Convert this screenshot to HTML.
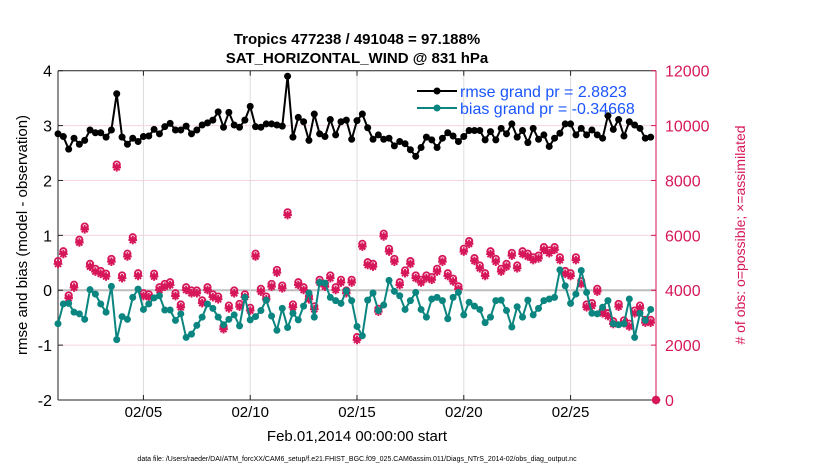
<!DOCTYPE html>
<html><head><meta charset="utf-8"><style>
html,body{margin:0;padding:0;background:#fff;}
svg{display:block;font-family:"Liberation Sans",Arial,sans-serif;}
</style></head><body>
<svg id="chart" width="830" height="470" viewBox="0 0 830 470">
<text x="357" y="44" text-anchor="middle" font-size="15" font-weight="bold">Tropics 477238 / 491048 = 97.188%</text>
<text x="357" y="63" text-anchor="middle" font-size="15" font-weight="bold">SAT_HORIZONTAL_WIND @ 831 hPa</text>
<g id="grid"></g>
<g id="axes"></g>
<g id="marks"></g>
<text x="357" y="441" text-anchor="middle" font-size="15">Feb.01,2014 00:00:00 start</text>
<text transform="translate(27,235) rotate(-90)" text-anchor="middle" font-size="15">rmse and bias (model - observation)</text>
<text transform="translate(745,235) rotate(-90)" text-anchor="middle" font-size="14" fill="#d6175a"># of obs: o=possible; ×=assimilated</text>
<text x="357" y="461" text-anchor="middle" font-size="7">data file: /Users/raeder/DAI/ATM_forcXX/CAM6_setup/f.e21.FHIST_BGC.f09_025.CAM6assim.011/Diags_NTrS_2014-02/obs_diag_output.nc</text>
<g>
<line x1="417" y1="91" x2="457" y2="91" stroke="#000" stroke-width="2"/>
<circle cx="437" cy="91" r="3.5" fill="#000"/>
<text x="460" y="97" font-size="16" fill="#1a55ff">rmse grand pr = 2.8823</text>
<line x1="417" y1="108" x2="457" y2="108" stroke="#0b8580" stroke-width="2"/>
<circle cx="437" cy="108" r="3.5" fill="#0b8580"/>
<text x="460" y="114" font-size="16" fill="#1a55ff">bias grand pr = -0.34668</text>
</g>
</svg>
<script>
const xTickDays=[5,10,15,20,25];
const xTickLabels=["02/05","02/10","02/15","02/20","02/25"];
const leftTicks=[-2,-1,0,1,2,3,4];
const rightTicks=[0,2000,4000,6000,8000,10000,12000];
const rmse=[2.85,2.80,2.57,2.77,2.66,2.73,2.92,2.87,2.87,2.79,2.92,3.58,2.79,2.66,2.77,2.71,2.80,2.81,2.93,2.85,2.98,3.04,2.92,2.92,2.99,2.85,2.92,3.01,3.05,3.10,3.25,2.97,3.24,3.01,2.97,3.10,3.35,2.98,2.97,3.03,3.03,3.01,2.99,3.90,2.79,3.15,3.07,2.73,3.21,2.85,2.80,3.11,2.83,
3.07,3.10,2.75,3.09,3.21,2.96,2.75,2.83,2.75,2.77,2.63,2.71,2.67,2.56,2.44,2.60,2.79,2.74,2.60,2.77,2.87,2.81,2.71,2.80,2.91,2.91,2.91,2.74,2.89,2.74,2.95,2.85,3.03,2.79,2.91,2.69,2.95,2.75,2.83,2.62,2.77,2.86,3.03,3.03,2.83,2.95,2.83,2.92,2.83,2.77,3.18,2.93,3.11,2.81,3.07,3.01,2.95,2.77,2.79];
const bias=[-0.61,-0.25,-0.24,-0.40,-0.43,-0.53,0.01,-0.07,-0.25,-0.40,0.07,-0.90,-0.48,-0.53,-0.13,0.02,-0.35,-0.25,-0.14,-0.10,-0.36,-0.36,-0.55,-0.43,-0.86,-0.80,-0.64,-0.49,-0.25,-0.33,-0.49,-0.63,-0.53,-0.45,-0.65,-0.13,-0.54,-0.48,-0.37,-0.18,-0.47,-0.73,-0.33,-0.68,-0.42,-0.54,-0.29,-0.05,-0.49,0.14,0.13,-0.13,-0.19,
-0.24,-0.01,-0.19,-0.66,-0.83,-0.18,-0.05,-0.37,-0.27,0.18,-0.02,-0.10,-0.35,-0.19,-0.04,-0.35,-0.49,-0.16,-0.13,-0.19,-0.52,-0.13,-0.04,-0.45,-0.22,-0.29,-0.35,-0.59,-0.49,-0.19,-0.18,-0.37,-0.67,-0.30,-0.49,-0.18,-0.45,-0.33,-0.19,-0.16,-0.13,0.37,0.08,-0.24,-0.07,0.36,-0.04,-0.42,-0.43,-0.31,-0.19,-0.61,-0.63,-0.61,-0.16,-0.86,-0.42,-0.55,-0.35];
const obsAssim=[4960,5320,3710,4100,5740,6220,4860,4680,4600,4500,5040,8480,4440,5230,5830,4520,3790,3750,4500,4010,4130,4190,3790,3380,4010,3890,3890,3530,4010,3750,3670,2580,3340,3890,3400,3750,3260,5230,3950,3670,4130,4640,4070,6740,3380,4190,4010,3670,3310,4280,4130,4440,4010,
4280,3890,4280,2190,5590,4920,4860,3220,5960,5410,5040,4190,4620,4960,4440,4280,4440,4380,4680,5040,4520,4320,4040,5410,5690,5070,4800,4520,5320,5040,4680,4860,5260,4800,5320,5230,5100,5160,5470,5350,5470,5100,4600,4520,5100,4230,3380,3430,3950,3160,3060,2770,3400,2800,2680,3160,3340,2820,2820,0];
const obsPossible=[5060,5420,3810,4200,5840,6320,4960,4780,4700,4600,5140,8580,4540,5330,5930,4620,3890,3850,4600,4110,4230,4290,3890,3480,4110,3990,3990,3630,4110,3850,3770,2680,3440,3990,3500,3850,3360,5330,4050,3770,4230,4740,4170,6840,3480,4290,4110,3770,3410,4380,4230,4540,4110,
4380,3990,4380,2290,5690,5020,4960,3320,6060,5510,5140,4290,4720,5060,4540,4380,4540,4480,4780,5140,4620,4420,4140,5510,5790,5170,4900,4620,5420,5140,4780,4960,5360,4900,5420,5330,5200,5260,5570,5450,5570,5200,4700,4620,5200,4330,3480,3530,4050,3260,3160,2870,3500,2900,2780,3260,3440,2920,2920,0];

const NS='http://www.w3.org/2000/svg';
const L=58,R=656,T=70.7,B=400;
const xDay=d=>L+(d-1)/28*(R-L);
const xIdx=i=>L+(i*0.25)/28*(R-L);
const yL=v=>B-(v+2)/6*(B-T);
const yR=c=>B-c/12000*(B-T);
function mk(tag,attrs,parent){const e=document.createElementNS(NS,tag);for(const k in attrs)e.setAttribute(k,attrs[k]);parent.appendChild(e);return e;}
const grid=document.getElementById('grid'),axes=document.getElementById('axes'),marks=document.getElementById('marks');
leftTicks.forEach(v=>{if(v===-2||v===4)return;
 const g=mk('line',{x1:L,x2:R,y1:yL(v),y2:yL(v),stroke:v===0?'#bdbdbd':'#f6d3df','stroke-width':v===0?2:1},grid);
 
 });
xTickDays.forEach((d,i)=>{
 const g=mk('line',{x1:xDay(d),x2:xDay(d),y1:T,y2:B,stroke:'#dcdcdc','stroke-width':1},grid);
 
 
 const t=mk('text',{x:xDay(d),y:417,'text-anchor':'middle','font-size':15},axes);t.textContent=xTickLabels[i];
 
 
 mk('line',{x1:xDay(d),x2:xDay(d),y1:B,y2:B-5,stroke:'#222'},axes);
 mk('line',{x1:xDay(d),x2:xDay(d),y1:T,y2:T+5,stroke:'#222'},axes);
});
mk('line',{x1:L,x2:R,y1:T,y2:T,stroke:'#222','stroke-width':1},axes);
mk('line',{x1:L,x2:R,y1:B,y2:B,stroke:'#222','stroke-width':1},axes);
mk('line',{x1:L,x2:L,y1:T,y2:B,stroke:'#222','stroke-width':1},axes);
mk('line',{x1:R,x2:R,y1:T,y2:B,stroke:'#d6175a','stroke-width':1},axes);
leftTicks.forEach(v=>{
 mk('line',{x1:L,x2:L+5,y1:yL(v),y2:yL(v),stroke:'#222'},axes);
 const t=mk('text',{x:52,y:yL(v)+6,'text-anchor':'end','font-size':16},axes);t.textContent=v;
 
 });
rightTicks.forEach(c=>{
 mk('line',{x1:R-5,x2:R,y1:yR(c),y2:yR(c),stroke:'#d6175a'},axes);
 const t=mk('text',{x:665,y:yR(c)+6,'font-size':16,fill:'#d6175a'},axes);t.textContent=c;
 
 });
const CR='#d6175a';
obsAssim.forEach((c,i)=>{
 const x=xIdx(i),y=yR(c),s=4.3;
 const g=mk('g',{stroke:CR,'stroke-width':2},marks);
 
 
 mk('line',{x1:x-s,x2:x+s,y1:y,y2:y},g);
 mk('line',{x1:x,x2:x,y1:y-s,y2:y+s},g);
 mk('line',{x1:x-s*0.7,x2:x+s*0.7,y1:y-s*0.7,y2:y+s*0.7},g);
 mk('line',{x1:x-s*0.7,x2:x+s*0.7,y1:y+s*0.7,y2:y-s*0.7},g);
});
obsPossible.forEach((c,i)=>{
 const p=mk('circle',{cx:xIdx(i),cy:yR(c),r:3.2,fill:'none',stroke:CR,'stroke-width':1.8},marks);
 
 
});
function series(arr,color,name){
 const pts=arr.map((v,i)=>xIdx(i).toFixed(1)+','+yL(v).toFixed(1)).join(' ');
 const pl=mk('polyline',{points:pts,fill:'none',stroke:color,'stroke-width':2,'stroke-linejoin':'round'},marks);
 
 
 arr.forEach((v,i)=>{const c=mk('circle',{cx:xIdx(i),cy:yL(v),r:3.5,fill:color},marks);
  
  });
}
series(bias,'#0b8580','bias');
series(rmse,'#000','rmse');
</script>
</body></html>
